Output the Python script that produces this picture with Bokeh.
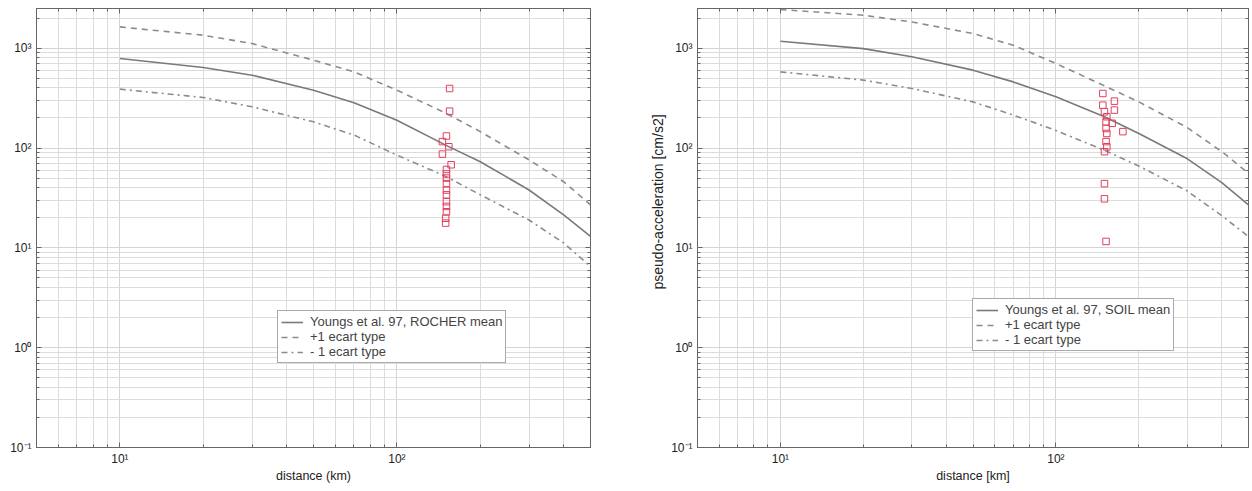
from bokeh.plotting import figure
from bokeh.models import FixedTicker, CustomJSTickFormatter, Legend, LegendItem, Range1d, LogAxis, Title
from bokeh.layouts import row
from bokeh.embed import file_html
from bokeh.resources import INLINE

# ---- data ----
distance = [10, 20, 30, 50, 70, 100, 150, 200, 300, 400, 500]

rock_mean = [789, 641, 537, 380, 284, 190, 107, 73, 38, 21.4, 13]
rock_plus = [1635, 1349, 1114, 759, 580, 380, 224, 146, 76, 46, 27]
rock_minus = [389, 321, 259, 183, 135, 85, 52, 34, 19, 11.2, 6.5]

rock_obs_dist = [155, 155, 151, 146, 154, 146, 157, 151, 151, 151, 151, 151, 151, 151, 151, 151, 150, 150]
rock_obs_val = [395, 234, 132, 116, 103, 87, 68, 61, 55, 50, 44, 38, 34, 29, 26, 23, 19.8, 17.7]

soil_mean = [1175, 990, 820, 603, 460, 326, 206, 140, 78, 45, 27]
soil_plus = [2440, 2140, 1833, 1403, 1072, 703, 420, 290, 160, 92, 56]
soil_minus = [580, 479, 395, 290, 214, 150, 95, 66, 37, 21, 13]

soil_obs_dist = [148, 163, 148, 163, 150, 153, 152, 160, 152, 175, 153, 152, 153, 150, 150, 150, 152]
soil_obs_val = [352, 295, 269, 240, 231, 206, 183, 177, 157, 146, 140, 116, 103, 92, 44, 31, 11.6]

x_major = [10, 100]
x_minor = [5, 6, 7, 8, 9, 20, 30, 40, 50, 60, 70, 80, 90, 200, 300, 400, 500]
y_major = [0.1, 1, 10, 100, 1000]
y_minor = [m * d for d in [0.1, 1, 10, 100, 1000] for m in range(2, 10)]

legend_rock = ["Youngs et al. 97, ROCHER mean", "+1 ecart type", "- 1 ecart type"]
legend_soil = ["Youngs et al. 97, SOIL mean", "+1 ecart type", "- 1 ecart type"]
soil_ylabel = "pseudo-acceleration [cm/s2]"

FONT = "Liberation Sans"
fmt = CustomJSTickFormatter(code="""
const sup = {'-':'\u207b','0':'\u2070','1':'\u00b9','2':'\u00b2','3':'\u00b3','4':'\u2074',
             '5':'\u2075','6':'\u2076','7':'\u2077','8':'\u2078','9':'\u2079'};
const e = Math.round(Math.log10(tick)).toString();
return '10' + e.split('').map(c => sup[c]).join('');
""")


def style_ticks(ax):
    ax.major_tick_in = 5
    ax.major_tick_out = 0
    ax.minor_tick_in = 3
    ax.minor_tick_out = 0
    ax.axis_line_color = "#666666"
    ax.major_tick_line_color = "#666666"
    ax.minor_tick_line_color = "#666666"


def make_fig(width, left, right, mean, plus, minus, od, ov, labels, leg_loc, xlabel):
    p = figure(width=width, height=488, x_axis_type="log", y_axis_type="log",
               x_range=Range1d(5, 500), y_range=Range1d(0.1, 2500),
               output_backend="svg", toolbar_location=None,
               min_border_left=left, min_border_right=right,
               min_border_top=8, min_border_bottom=41)
    p.outline_line_color = "#666666"
    p.background_fill_color = "white"
    p.border_fill_color = "white"

    p.xaxis.ticker = FixedTicker(ticks=x_major, minor_ticks=x_minor)
    p.yaxis.ticker = FixedTicker(ticks=y_major, minor_ticks=y_minor)
    for ax in (p.xaxis, p.yaxis):
        style_ticks(ax)
        ax.formatter = fmt
        ax.major_label_text_font = FONT
        ax.major_label_text_font_size = "12px"
        ax.major_label_text_color = "#222222"
        ax.axis_label_text_font = FONT
        ax.axis_label_text_font_size = "12.5px"
        ax.axis_label_text_font_style = "normal"
        ax.axis_label_text_color = "#222222"
    p.xaxis.major_label_standoff = 4
    p.xaxis.axis_label = xlabel
    p.xaxis.axis_label_standoff = 0

    # box ticks on the top and right edges, without labels
    top = LogAxis(ticker=FixedTicker(ticks=x_major, minor_ticks=x_minor),
                  formatter=CustomJSTickFormatter(code="return ''"), major_label_standoff=0)
    rgt = LogAxis(ticker=FixedTicker(ticks=y_major, minor_ticks=y_minor),
                  formatter=CustomJSTickFormatter(code="return ''"), major_label_standoff=0)
    for ax in (top, rgt):
        style_ticks(ax)
    p.add_layout(top, "above")
    p.add_layout(rgt, "right")

    for g in (p.xgrid, p.ygrid):
        g.grid_line_color = "#d4d4d4"
        g.minor_grid_line_color = "#dcdcdc"
        g.grid_line_width = 1
        g.minor_grid_line_width = 1

    r1 = p.line(distance, mean, line_color="#7a7a7a", line_width=1.6)
    r2 = p.line(distance, plus, line_color="#8c8c8c", line_width=1.6, line_dash="6 5")
    r3 = p.line(distance, minus, line_color="#8c8c8c", line_width=1.6, line_dash="6 4 2 4")
    p.scatter(od, ov, marker="square", size=6.5, fill_color=None,
              line_color="#e0405e", line_width=1)

    leg = Legend(items=[LegendItem(label=labels[0], renderers=[r1]),
                        LegendItem(label=labels[1], renderers=[r2]),
                        LegendItem(label=labels[2], renderers=[r3])],
                 location=leg_loc, label_text_font=FONT, label_text_font_size="13px",
                 label_height=14, glyph_height=14, glyph_width=22, spacing=0,
                 padding=3, margin=0, label_standoff=7,
                 border_line_color="#555555", background_fill_alpha=1)
    p.add_layout(leg, "center")
    return p


p1 = make_fig(620, 36, 30, rock_mean, rock_plus, rock_minus, rock_obs_dist, rock_obs_val,
              legend_rock, (241, 84), "distance (km)")
p2 = make_fig(632, 77, 4, soil_mean, soil_plus, soil_minus, soil_obs_dist, soil_obs_val,
              legend_soil, (275, 96), "distance [km]")

ytitle = Title(text=soil_ylabel, align="left", offset=158, standoff=6,
               text_font=FONT, text_font_size="14px", text_font_style="normal",
               text_color="#222222")
p2.add_layout(ytitle, "left")

layout = row(p1, p2, spacing=0)
open("out.html", "w").write(file_html(layout, INLINE))
